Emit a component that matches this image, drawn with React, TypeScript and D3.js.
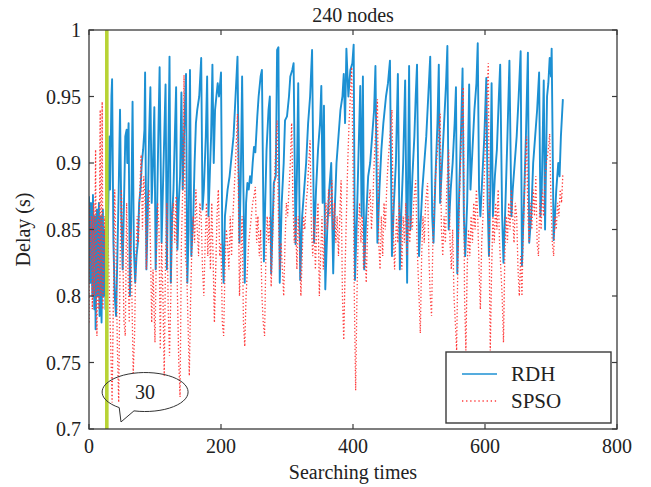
import * as d3 from 'd3';

// iteration, delay (s) — turning points
const rdhPoints: [number, number][] = [
    [0, 0.875], [2, 0.81], [3, 0.87], [5, 0.8], [6, 0.876], [8, 0.79], [9, 0.86], [10, 0.775], [12, 0.865], [13, 0.8],
    [15, 0.87], [16, 0.785], [18, 0.86], [19, 0.78], [21, 0.865], [22, 0.8], [24, 0.85], [25, 0.79], [26, 0.86], [27, 0.8],
    [29, 0.86], [31, 0.92], [32, 0.88], [34, 0.95], [35, 0.963], [37, 0.84], [39, 0.8], [41, 0.785], [43, 0.83], [45, 0.88],
    [47, 0.94], [49, 0.86], [51, 0.82], [53, 0.87], [55, 0.92], [57, 0.925], [58, 0.9], [60, 0.93], [62, 0.8], [64, 0.86],
    [66, 0.946], [68, 0.835], [70, 0.81], [72, 0.83], [74, 0.84], [76, 0.87], [78, 0.88], [80, 0.9], [82, 0.91], [84, 0.925],
    [85, 0.968], [87, 0.82], [89, 0.86], [91, 0.92], [93, 0.957], [95, 0.87], [97, 0.9], [99, 0.942], [101, 0.82], [103, 0.86],
    [105, 0.92], [107, 0.972], [110, 0.84], [112, 0.88], [114, 0.92], [116, 0.959], [118, 0.82], [120, 0.9], [122, 0.98], [124, 0.81],
    [126, 0.86], [128, 0.88], [130, 0.92], [132, 0.957], [134, 0.835], [136, 0.87], [138, 0.89], [140, 0.953], [142, 0.88], [144, 0.92],
    [147, 0.967], [149, 0.81], [151, 0.85], [153, 0.97], [155, 0.83], [158, 0.86], [160, 0.9], [162, 0.93], [164, 0.94], [167, 0.95],
    [170, 0.979], [172, 0.865], [174, 0.88], [177, 0.92], [179, 0.965], [181, 0.86], [183, 0.89], [185, 0.92], [187, 0.974], [189, 0.9],
    [191, 0.94], [193, 0.95], [195, 0.96], [197, 0.95], [200, 0.968], [202, 0.84], [204, 0.81], [206, 0.86], [208, 0.87], [210, 0.88],
    [213, 0.89], [216, 0.905], [219, 0.92], [222, 0.95], [225, 0.98], [228, 0.84], [230, 0.89], [232, 0.965], [234, 0.88], [236, 0.81],
    [238, 0.87], [240, 0.885], [242, 0.88], [244, 0.89], [246, 0.885], [248, 0.9], [250, 0.912], [252, 0.908], [255, 0.935], [257, 0.95],
    [260, 0.965], [262, 0.97], [265, 0.826], [267, 0.87], [269, 0.91], [272, 0.94], [274, 0.95], [276, 0.817], [278, 0.85], [280, 0.885],
    [283, 0.89], [285, 0.985], [287, 0.987], [289, 0.81], [292, 0.87], [295, 0.9], [297, 0.932], [300, 0.935], [303, 0.95], [305, 0.965],
    [308, 0.97], [310, 0.975], [313, 0.839], [315, 0.89], [317, 0.96], [320, 0.812], [323, 0.86], [326, 0.88], [329, 0.9], [332, 0.93],
    [335, 0.95], [338, 0.985], [341, 0.84], [344, 0.88], [347, 0.91], [350, 0.93], [352, 0.958], [354, 0.87], [356, 0.943], [358, 0.805],
    [361, 0.85], [364, 0.88], [367, 0.9], [370, 0.817], [372, 0.86], [375, 0.9], [378, 0.92], [381, 0.94], [384, 0.95], [386, 0.967],
    [388, 0.93], [390, 0.986], [393, 0.95], [396, 0.97], [399, 0.975], [401, 0.989], [403, 0.812], [406, 0.86], [408, 0.9], [411, 0.958],
    [413, 0.86], [415, 0.965], [417, 0.82], [420, 0.86], [423, 0.89], [426, 0.9], [429, 0.92], [432, 0.94], [434, 0.973], [437, 0.84],
    [440, 0.88], [443, 0.91], [446, 0.93], [450, 0.95], [453, 0.96], [456, 0.977], [459, 0.83], [462, 0.87], [465, 0.9], [468, 0.967],
    [471, 0.82], [473, 0.86], [476, 0.9], [479, 0.962], [482, 0.81], [485, 0.973], [487, 0.85], [490, 0.89], [493, 0.92], [495, 0.95],
    [497, 0.974], [500, 0.83], [502, 0.85], [505, 0.88], [508, 0.9], [511, 0.92], [514, 0.95], [517, 0.98], [520, 0.86], [522, 0.84],
    [525, 0.89], [528, 0.93], [530, 0.974], [532, 0.87], [535, 0.9], [538, 0.93], [541, 0.96], [543, 0.988], [545, 0.85], [548, 0.88],
    [551, 0.9], [554, 0.93], [556, 0.957], [558, 0.817], [561, 0.88], [564, 0.93], [566, 0.971], [568, 0.86], [570, 0.83], [573, 0.87],
    [576, 0.959], [578, 0.88], [581, 0.91], [584, 0.94], [587, 0.96], [589, 0.99], [591, 0.88], [593, 0.86], [596, 0.89], [599, 0.92],
    [602, 0.964], [604, 0.87], [606, 0.83], [608, 0.88], [610, 0.96], [612, 0.86], [615, 0.89], [618, 0.91], [621, 0.95], [623, 0.974],
    [626, 0.86], [628, 0.825], [631, 0.87], [634, 0.92], [637, 0.977], [640, 0.86], [642, 0.88], [645, 0.9], [648, 0.92], [651, 0.95],
    [654, 0.984], [656, 0.823], [659, 0.87], [662, 0.92], [665, 0.983], [667, 0.84], [670, 0.86], [673, 0.9], [676, 0.92], [679, 0.94],
    [682, 0.968], [684, 0.86], [686, 0.88], [689, 0.962], [691, 0.85], [694, 0.95], [696, 0.96], [698, 0.979], [700, 0.965], [701, 0.986],
    [704, 0.842], [706, 0.86], [708, 0.88], [711, 0.9], [713, 0.89], [715, 0.92], [718, 0.948],
];

const spsoPoints: [number, number][] = [
    [0, 0.78], [1, 0.87], [2, 0.82], [4, 0.86], [5, 0.79], [7, 0.87], [8, 0.8], [10, 0.91], [11, 0.8], [12, 0.77],
    [14, 0.86], [15, 0.79], [17, 0.94], [18, 0.8], [20, 0.946], [21, 0.79], [22, 0.82], [24, 0.86], [25, 0.8], [27, 0.86],
    [29, 0.84], [31, 0.8], [33, 0.76], [35, 0.72], [37, 0.8], [39, 0.88], [41, 0.83], [43, 0.76], [45, 0.72], [47, 0.82],
    [49, 0.88], [51, 0.84], [53, 0.78], [55, 0.77], [57, 0.87], [59, 0.82], [61, 0.78], [63, 0.85], [65, 0.8], [67, 0.742],
    [69, 0.77], [71, 0.83], [73, 0.86], [75, 0.84], [77, 0.88], [79, 0.906], [81, 0.85], [83, 0.89], [85, 0.87], [87, 0.82],
    [89, 0.87], [91, 0.88], [93, 0.84], [95, 0.78], [97, 0.82], [100, 0.765], [102, 0.83], [104, 0.87], [106, 0.85], [108, 0.76],
    [110, 0.84], [112, 0.8], [114, 0.74], [116, 0.83], [118, 0.87], [120, 0.79], [122, 0.755], [124, 0.8], [126, 0.86], [128, 0.87],
    [130, 0.84], [132, 0.875], [134, 0.8], [136, 0.75], [138, 0.724], [140, 0.84], [142, 0.88], [144, 0.966], [146, 0.83], [148, 0.82],
    [150, 0.78], [152, 0.74], [154, 0.8], [156, 0.84], [158, 0.86], [160, 0.84], [162, 0.88], [164, 0.85], [166, 0.83], [168, 0.87],
    [170, 0.86], [172, 0.82], [174, 0.8], [176, 0.84], [178, 0.87], [180, 0.83], [182, 0.86], [184, 0.82], [186, 0.87], [188, 0.83],
    [190, 0.78], [192, 0.82], [194, 0.86], [196, 0.88], [198, 0.83], [200, 0.84], [202, 0.78], [204, 0.77], [206, 0.82], [208, 0.85],
    [210, 0.84], [212, 0.82], [214, 0.86], [216, 0.83], [218, 0.86], [220, 0.88], [222, 0.9], [225, 0.937], [228, 0.8], [230, 0.83],
    [232, 0.86], [234, 0.78], [236, 0.762], [238, 0.8], [240, 0.82], [242, 0.84], [244, 0.85], [246, 0.86], [248, 0.87], [250, 0.875],
    [252, 0.882], [254, 0.84], [256, 0.86], [258, 0.83], [260, 0.85], [262, 0.8], [264, 0.78], [266, 0.77], [268, 0.83], [270, 0.86],
    [272, 0.84], [274, 0.86], [276, 0.807], [278, 0.84], [280, 0.87], [282, 0.9], [285, 0.932], [287, 0.86], [289, 0.82], [291, 0.84],
    [293, 0.82], [295, 0.8], [297, 0.84], [299, 0.87], [301, 0.86], [303, 0.88], [305, 0.9], [307, 0.93], [309, 0.87], [311, 0.84],
    [313, 0.86], [315, 0.82], [317, 0.86], [319, 0.84], [321, 0.8], [323, 0.83], [325, 0.86], [327, 0.85], [329, 0.87], [331, 0.88],
    [333, 0.9], [335, 0.917], [337, 0.85], [339, 0.83], [341, 0.86], [343, 0.82], [345, 0.85], [347, 0.87], [349, 0.8], [351, 0.83],
    [353, 0.86], [355, 0.82], [357, 0.85], [359, 0.87], [361, 0.85], [363, 0.88], [365, 0.86], [368, 0.887], [370, 0.85], [372, 0.87],
    [374, 0.84], [376, 0.86], [378, 0.83], [380, 0.86], [382, 0.887], [384, 0.8], [386, 0.767], [388, 0.82], [390, 0.86], [392, 0.9],
    [394, 0.93], [396, 0.95], [398, 0.972], [400, 0.9], [402, 0.8], [404, 0.729], [406, 0.8], [408, 0.85], [410, 0.87], [412, 0.84],
    [414, 0.86], [416, 0.82], [418, 0.84], [420, 0.81], [422, 0.85], [424, 0.87], [426, 0.88], [428, 0.85], [430, 0.87], [432, 0.9],
    [434, 0.92], [437, 0.948], [439, 0.84], [441, 0.82], [443, 0.86], [445, 0.83], [447, 0.87], [449, 0.85], [451, 0.88], [453, 0.9],
    [456, 0.92], [459, 0.94], [461, 0.85], [463, 0.82], [466, 0.86], [468, 0.84], [470, 0.87], [472, 0.85], [474, 0.82], [476, 0.86],
    [478, 0.84], [480, 0.87], [482, 0.83], [484, 0.86], [486, 0.84], [488, 0.86], [490, 0.85], [492, 0.87], [495, 0.887], [497, 0.84],
    [500, 0.8], [502, 0.772], [504, 0.83], [506, 0.86], [508, 0.84], [510, 0.87], [513, 0.885], [515, 0.83], [517, 0.8], [519, 0.785],
    [521, 0.84], [523, 0.87], [525, 0.89], [528, 0.91], [530, 0.92], [532, 0.937], [534, 0.85], [536, 0.83], [538, 0.86], [540, 0.84],
    [542, 0.88], [545, 0.91], [547, 0.84], [549, 0.82], [551, 0.85], [553, 0.8], [555, 0.78], [557, 0.759], [559, 0.83], [561, 0.87],
    [563, 0.9], [565, 0.93], [567, 0.957], [569, 0.8], [571, 0.759], [573, 0.82], [575, 0.85], [577, 0.83], [579, 0.86], [581, 0.84],
    [583, 0.87], [585, 0.85], [587, 0.88], [589, 0.86], [591, 0.82], [593, 0.79], [595, 0.84], [597, 0.86], [599, 0.89], [601, 0.92],
    [603, 0.95], [605, 0.975], [607, 0.8], [608, 0.759], [610, 0.82], [612, 0.86], [614, 0.84], [616, 0.87], [618, 0.85], [620, 0.88],
    [622, 0.84], [624, 0.82], [626, 0.8], [628, 0.765], [630, 0.83], [632, 0.86], [634, 0.84], [636, 0.87], [638, 0.85], [640, 0.88],
    [642, 0.86], [644, 0.84], [646, 0.87], [648, 0.86], [650, 0.82], [652, 0.8], [654, 0.83], [656, 0.8], [658, 0.85], [660, 0.88],
    [663, 0.92], [665, 0.86], [667, 0.84], [669, 0.87], [671, 0.85], [673, 0.88], [675, 0.86], [677, 0.89], [679, 0.84], [681, 0.83],
    [683, 0.87], [685, 0.85], [687, 0.88], [689, 0.86], [691, 0.89], [693, 0.9], [696, 0.91], [698, 0.922], [700, 0.87], [702, 0.84],
    [704, 0.83], [706, 0.86], [708, 0.85], [710, 0.87], [712, 0.86], [714, 0.88], [716, 0.87], [718, 0.892],
];

const xTicks = [0, 200, 400, 600, 800];
const yTicks = [0.7, 0.75, 0.8, 0.85, 0.9, 0.95, 1];
const yTickLabels = ['0.7', '0.75', '0.8', '0.85', '0.9', '0.95', '1'];

const markerIteration = 27; // vertical green marker
const calloutLabel = '30';
const calloutCenter: [number, number] = [85, 0.7278];
const calloutTip: [number, number] = [48.5, 0.7053];

const WIDTH = 651;
const HEIGHT = 487;
const MARGIN = { left: 89, right: 34, top: 30, bottom: 58 };
const FONT = '"Liberation Serif", "Times New Roman", serif';
const AXIS_COLOR = '#3a3a3a';
const RDH_COLOR = '#1c90d3';
const SPSO_COLOR = '#ff3a3a';

export default function App() {
    const innerW = WIDTH - MARGIN.left - MARGIN.right;
    const innerH = HEIGHT - MARGIN.top - MARGIN.bottom;
    const x = d3.scaleLinear().domain([0, 800]).range([MARGIN.left, MARGIN.left + innerW]);
    const y = d3.scaleLinear().domain([0.7, 1]).range([MARGIN.top + innerH, MARGIN.top]);

    const line = d3
        .line<[number, number]>()
        .x((d) => x(d[0]))
        .y((d) => y(d[1]));

    const left = x(0);
    const right = x(800);
    const top = y(1);
    const bottom = y(0.7);
    const tick = 5;

    // callout bubble (ellipse with a tail)
    const cx = x(calloutCenter[0]);
    const cy = y(calloutCenter[1]);
    const rx = 43;
    const ry = 19.5;
    const pt = (deg: number) => {
        const a = (deg * Math.PI) / 180;
        return [cx + rx * Math.cos(a), cy + ry * Math.sin(a)];
    };
    const p1 = pt(127);
    const p2 = pt(105);
    const tipX = x(calloutTip[0]);
    const tipY = y(calloutTip[1]);
    const bubble = `M${p1[0]},${p1[1]} L${tipX},${tipY} L${p2[0]},${p2[1]} A${rx},${ry} 0 1 0 ${p1[0]},${p1[1]}`;

    // legend box
    const lg = { x0: 446, y0: 352, x1: 611, y1: 423 };

    return (
        <svg
            width={WIDTH}
            height={HEIGHT}
            style={{ position: 'absolute', left: 0, top: 0, background: '#fff' }}
            fontFamily={FONT}
        >
            <defs>
                <clipPath id="plot">
                    <rect x={left} y={top} width={innerW} height={innerH} />
                </clipPath>
            </defs>
            <rect x={0} y={0} width={WIDTH} height={HEIGHT} fill="#fff" />

            <g clipPath="url(#plot)">
                <path d={line(rdhPoints) ?? ''} fill="none" stroke={RDH_COLOR} strokeWidth={1.9} strokeLinejoin="round" />
                <path
                    d={line(spsoPoints) ?? ''}
                    fill="none"
                    stroke={SPSO_COLOR}
                    strokeWidth={1.3}
                    strokeDasharray="1.3 2.2"
                />
                <line
                    x1={x(markerIteration)}
                    x2={x(markerIteration)}
                    y1={top}
                    y2={bottom}
                    stroke="#b8d335"
                    strokeWidth={3.6}
                />
            </g>

            {/* callout */}
            <path d={bubble} fill="none" stroke="#333" strokeWidth={1} />
            <text x={cx} y={cy + 6.5} textAnchor="middle" fontSize={20} fill="#222">
                {calloutLabel}
            </text>

            {/* axes box */}
            <rect x={left} y={top} width={innerW} height={innerH} fill="none" stroke={AXIS_COLOR} strokeWidth={1.3} />

            {xTicks.map((t) => (
                <g key={`x${t}`}>
                    <line x1={x(t)} x2={x(t)} y1={bottom} y2={bottom - tick} stroke={AXIS_COLOR} strokeWidth={1.2} />
                    <line x1={x(t)} x2={x(t)} y1={top} y2={top + tick} stroke={AXIS_COLOR} strokeWidth={1.2} />
                    <text x={x(t)} y={bottom + 24} textAnchor="middle" fontSize={20} fill="#222">
                        {t}
                    </text>
                </g>
            ))}

            {yTicks.map((t, i) => (
                <g key={`y${t}`}>
                    <line x1={left} x2={left + tick} y1={y(t)} y2={y(t)} stroke={AXIS_COLOR} strokeWidth={1.2} />
                    <line x1={right} x2={right - tick} y1={y(t)} y2={y(t)} stroke={AXIS_COLOR} strokeWidth={1.2} />
                    <text x={left - 8} y={y(t) + 7} textAnchor="end" fontSize={20} fill="#222">
                        {yTickLabels[i]}
                    </text>
                </g>
            ))}

            {/* titles */}
            <text x={(left + right) / 2} y={22} textAnchor="middle" fontSize={20} fill="#222">
                240 nodes
            </text>
            <text x={(left + right) / 2} y={479} textAnchor="middle" fontSize={20} fill="#222">
                Searching times
            </text>
            <text
                transform={`translate(30, ${(top + bottom) / 2}) rotate(-90)`}
                textAnchor="middle"
                fontSize={20}
                fill="#222"
            >
                Delay (s)
            </text>

            {/* legend */}
            <rect
                x={lg.x0}
                y={lg.y0}
                width={lg.x1 - lg.x0}
                height={lg.y1 - lg.y0}
                fill="#fff"
                stroke={AXIS_COLOR}
                strokeWidth={1.4}
            />
            <line x1={462} x2={497} y1={374} y2={374} stroke={RDH_COLOR} strokeWidth={1.7} />
            <text x={511} y={381} fontSize={21} fill="#222">
                RDH
            </text>
            <line x1={462} x2={497} y1={401} y2={401} stroke={SPSO_COLOR} strokeWidth={1.3} strokeDasharray="1.3 2.8" />
            <text x={511} y={408} fontSize={21} fill="#222">
                SPSO
            </text>
        </svg>
    );
}
